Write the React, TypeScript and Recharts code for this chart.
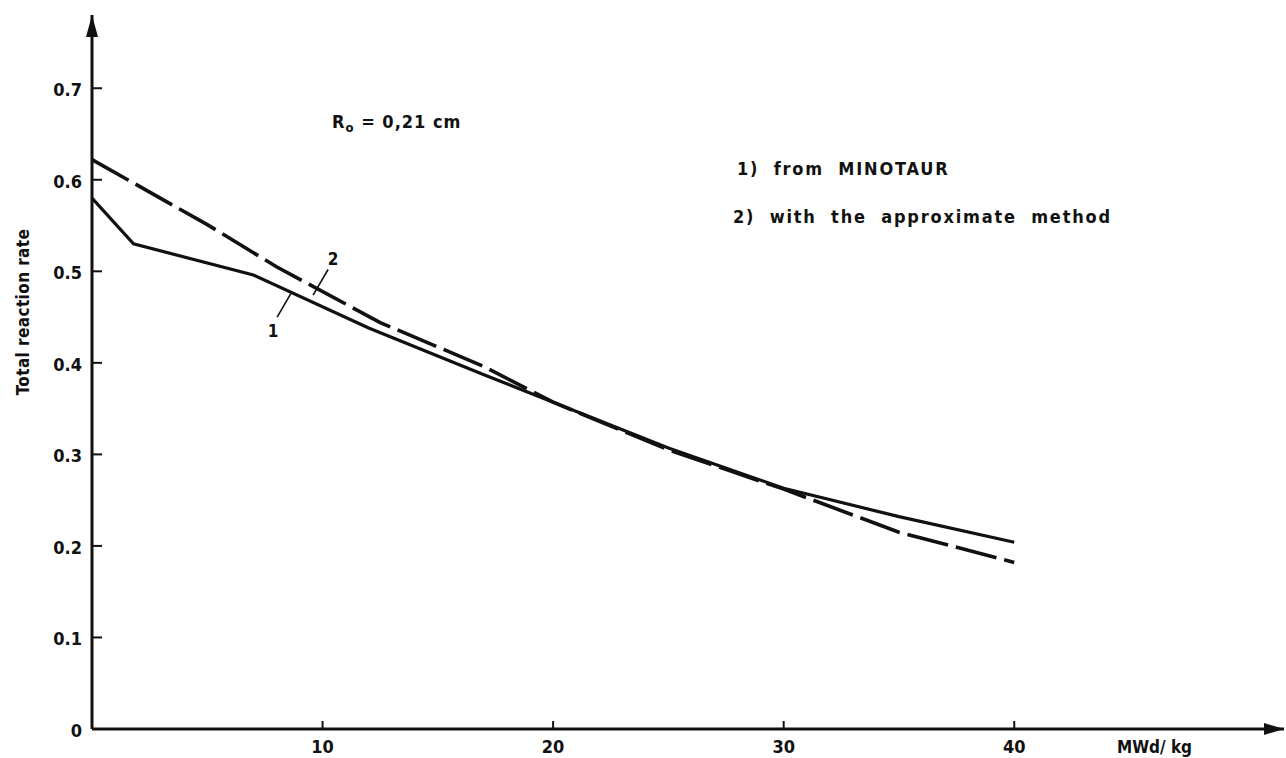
import React from "react"
import {
  LineChart,
  Line,
  XAxis,
  YAxis,
  ReferenceDot,
  ReferenceLine,
} from "recharts"

// burnup (MWd/kg) and total reaction rate
const minotaurX = [0, 1.8, 7, 12, 17, 20, 25, 30, 35, 40]
const minotaurY = [0.58, 0.53, 0.496, 0.438, 0.387, 0.357, 0.307, 0.263, 0.232, 0.204]

const approxX = [0, 5, 8, 12.5, 17, 20, 25, 30, 35, 40]
const approxY = [0.622, 0.551, 0.505, 0.444, 0.396, 0.357, 0.305, 0.262, 0.215, 0.182]

const xTicks = [10, 20, 30, 40]
const yTicks = [0, 0.1, 0.2, 0.3, 0.4, 0.5, 0.6, 0.7]

// leader lines from the curve numbers to the curves
const leader1 = [
  { x: 8.03, y: 0.45 },
  { x: 8.68, y: 0.478 },
]
const leader2 = [
  { x: 10.24, y: 0.502 },
  { x: 9.59, y: 0.474 },
]

const minotaur = minotaurX.map((x, i) => ({ x, y: minotaurY[i] }))
const approx = approxX.map((x, i) => ({ x, y: approxY[i] }))

const ink = "#111"
const font = "'DejaVu Sans Condensed', 'DejaVu Sans', sans-serif"

function YTick(props: any) {
  const { x, y, payload } = props
  const label = payload.value === 0 ? "0" : payload.value.toFixed(1)
  return (
    <g>
      <line x1={x} x2={x + 10} y1={y} y2={y} stroke={ink} strokeWidth={2} />
      <text x={x - 10} y={y + 8} textAnchor="end" fontSize={18} fontWeight="bold" fontFamily={font} fill={ink}>
        {label}
      </text>
    </g>
  )
}

function XTick(props: any) {
  const { x, y, payload } = props
  return (
    <g>
      <line x1={x} x2={x} y1={y} y2={y - 8} stroke={ink} strokeWidth={2} />
      <text x={x} y={y + 24} textAnchor="middle" fontSize={18} fontWeight="bold" fontFamily={font} fill={ink}>
        {payload.value}
      </text>
    </g>
  )
}

export default function App() {
  return (
    <div style={{ position: "absolute", left: 0, top: 0, width: 1286, height: 758, background: "#fff" }}>
      <LineChart width={1286} height={758} margin={{ top: 15, right: 2, bottom: 0, left: 0 }}>
        <XAxis
          type="number"
          dataKey="x"
          domain={[0, 51.7]}
          ticks={xTicks}
          height={29}
          tickSize={0}
          tickMargin={0}
          tick={<XTick />}
          axisLine={{ stroke: ink, strokeWidth: 3 }}
          tickLine={false}
          allowDataOverflow
        />
        <YAxis
          type="number"
          dataKey="y"
          domain={[0, 0.78]}
          ticks={yTicks}
          width={92}
          tickSize={0}
          tickMargin={0}
          tick={<YTick />}
          axisLine={{ stroke: ink, strokeWidth: 3 }}
          tickLine={false}
          allowDataOverflow
        />
        <Line
          data={minotaur}
          dataKey="y"
          type="linear"
          stroke={ink}
          strokeWidth={3.2}
          dot={false}
          isAnimationActive={false}
        />
        <Line
          data={approx}
          dataKey="y"
          type="linear"
          stroke={ink}
          strokeWidth={3.6}
          strokeDasharray="42 8"
          dot={false}
          isAnimationActive={false}
        />
        <ReferenceLine segment={leader1} stroke={ink} strokeWidth={1.6} />
        <ReferenceLine segment={leader2} stroke={ink} strokeWidth={1.6} />
        <ReferenceDot
          x={51.7}
          y={0}
          ifOverflow="visible"
          shape={(p: any) => (
            <polygon
              points={`${p.cx - 20},${p.cy - 6} ${p.cx},${p.cy} ${p.cx - 20},${p.cy + 6}`}
              fill={ink}
            />
          )}
        />
        <ReferenceDot
          x={0}
          y={0.78}
          ifOverflow="visible"
          shape={(p: any) => (
            <polygon
              points={`${p.cx},${p.cy} ${p.cx - 6},${p.cy + 22} ${p.cx + 6},${p.cy + 22}`}
              fill={ink}
            />
          )}
        />
      </LineChart>
      <svg
        width={1286}
        height={758}
        style={{ position: "absolute", left: 0, top: 0, pointerEvents: "none" }}
        fontFamily={font}
        fontWeight="bold"
        fill={ink}
      >
        <text x={29} y={312} fontSize={17} textAnchor="middle" transform="rotate(-90 29 312)" letterSpacing={0.4}>
          Total  reaction  rate
        </text>
        <text x={1117} y={753} fontSize={17}>
          MWd/ kg
        </text>
        <text x={332} y={128} fontSize={18} letterSpacing={1}>
          R
          <tspan fontSize={13} dy={4}>o</tspan>
          <tspan dy={-4}> = 0,21  cm</tspan>
        </text>
        <text x={737} y={175} fontSize={18} letterSpacing={1.8} style={{ wordSpacing: 7 }}>
          1)  from   MINOTAUR
        </text>
        <text x={733} y={223} fontSize={18} letterSpacing={1.8} style={{ wordSpacing: 7 }}>
          2)  with  the  approximate  method
        </text>
        <text x={273} y={337} fontSize={17} textAnchor="middle">
          1
        </text>
        <text x={333} y={265} fontSize={17} textAnchor="middle">
          2
        </text>
      </svg>
    </div>
  )
}
